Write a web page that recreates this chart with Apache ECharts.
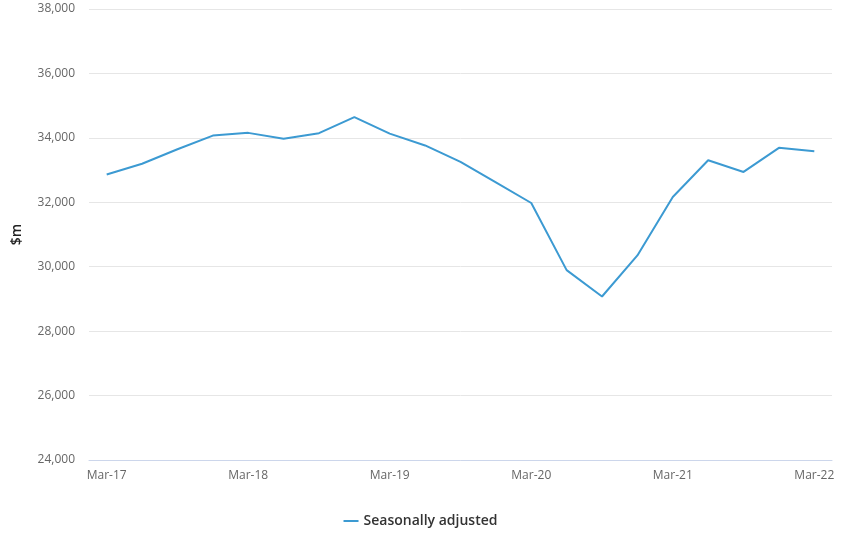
<!DOCTYPE html>
<html>
<head>
<meta charset="utf-8">
<script src="https://cdn.jsdelivr.net/npm/echarts@6/dist/echarts.min.js"></script>
<style>html,body{margin:0;padding:0;background:#fff}#c{width:841px;height:545px}</style>
</head>
<body>
<div id="c"></div>
<script>
const categories = ["Mar-17","Jun-17","Sep-17","Dec-17","Mar-18","Jun-18","Sep-18","Dec-18","Mar-19","Jun-19","Sep-19","Dec-19","Mar-20","Jun-20","Sep-20","Dec-20","Mar-21","Jun-21","Sep-21","Dec-21","Mar-22"];
const seasonallyAdjusted = [32860,33195,33645,34070,34155,33970,34145,34645,34130,33765,33255,32620,31978,29895,29075,30350,32165,33305,32942,33690,33583];
const yTicks = {min:24000, max:38000, interval:2000};
const seriesName = "Seasonally adjusted";
const yAxisName = "$m";

const chart = echarts.init(document.getElementById('c'), null, {renderer:'canvas'});
chart.setOption({
  animation:false,
  textStyle:{fontFamily:'"Open Sans", "Noto Sans", sans-serif'},
  grid:{left:89, right:9, top:9, bottom:85, containLabel:false},
  legend:{
    bottom:12, left:'center',
    data:[{name:seriesName, icon:'rect'}],
    itemWidth:15, itemHeight:2, itemGap:10,
    textStyle:{color:'#333', fontSize:14, fontWeight:600, fontFamily:'"Open Sans", sans-serif'}
  },
  xAxis:{
    type:'category', data:categories, boundaryGap:true,
    axisLine:{show:true, lineStyle:{color:'#ccd6eb', width:1}},
    axisTick:{show:false},
    axisLabel:{interval:3, color:'#666', fontSize:12, margin:10},
    splitLine:{show:false}
  },
  yAxis:{
    type:'value', min:yTicks.min, max:yTicks.max, interval:yTicks.interval,
    name:yAxisName, nameLocation:'middle', nameGap:65, nameRotate:90,
    nameTextStyle:{color:'#222', fontSize:14, fontWeight:600},
    axisLine:{show:false}, axisTick:{show:false},
    axisLabel:{color:'#666', fontSize:12, margin:14,
      formatter:v=>v.toLocaleString('en-US')},
    splitLine:{lineStyle:{color:'#e6e6e6', width:1}}
  },
  series:[{
    name:seriesName, type:'line', data:seasonallyAdjusted,
    symbol:'none', showSymbol:false,
    lineStyle:{color:'#3c9ad2', width:2},
    itemStyle:{color:'#3c9ad2'}
  }]
});
</script>
</body>
</html>
